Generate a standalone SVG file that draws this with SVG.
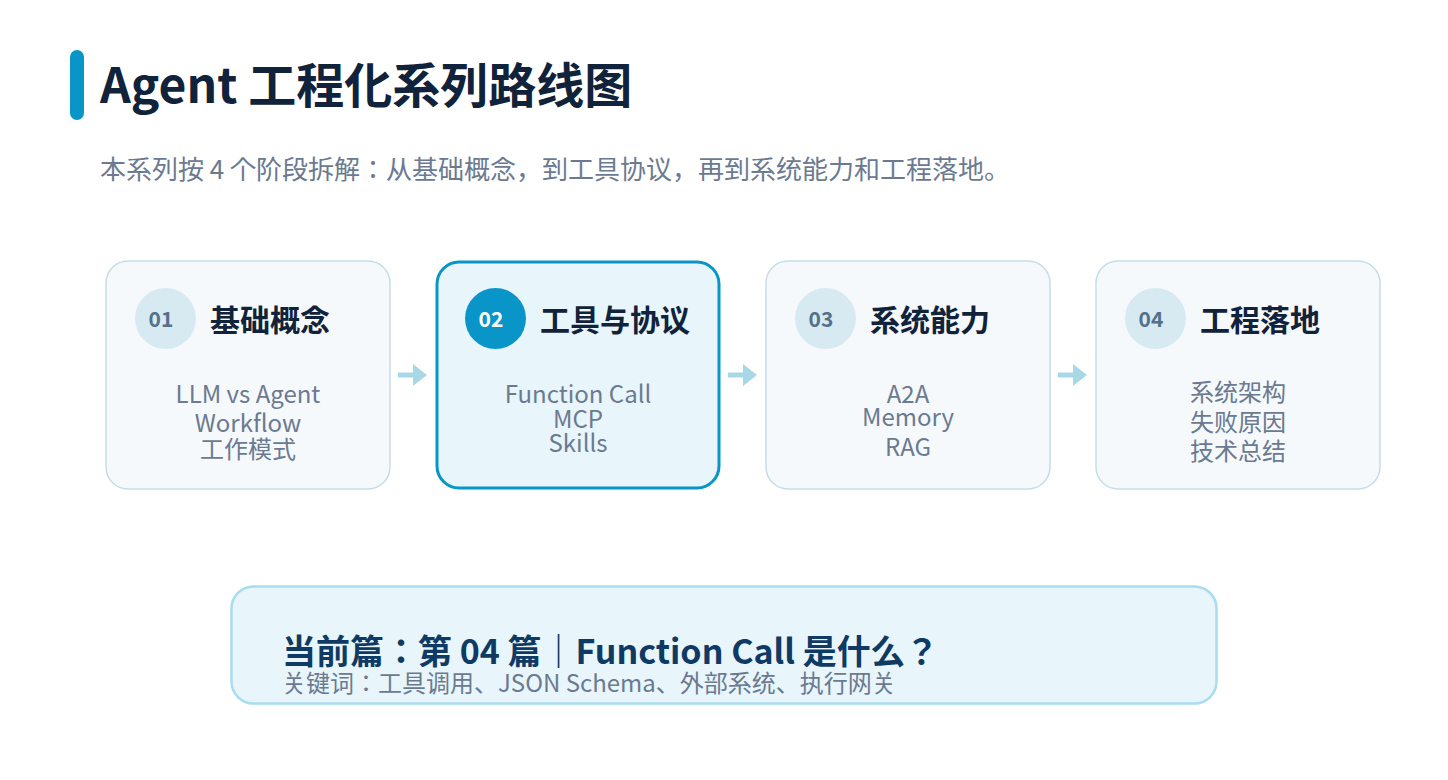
<svg xmlns="http://www.w3.org/2000/svg" width="1448" height="780" viewBox="0 0 1448 780">
<defs>
<style>
text{font-family:"Noto Sans CJK JP","Noto Sans",sans-serif;}
.card{fill:#f5f9fc;stroke:#c6dde8;stroke-width:1.5;}
.card.active{fill:#e8f5fb;stroke:#0a95c8;stroke-width:3;}
.badge{fill:#d7eaf2;}
.badge.active{fill:#0a95c8;}
.num{font-size:21px;font-weight:700;fill:#55708a;text-anchor:middle;}
.num.active{fill:#ffffff;}
.head{font-size:30px;font-weight:700;fill:#10233a;}
.body{font-size:24px;fill:#6b7a90;text-anchor:middle;}
.arrow{fill:#a8d8e6;}
</style>
</defs>
<rect width="1448" height="780" fill="#ffffff"/>
<g id="header">
<rect x="70" y="50" width="14" height="70" rx="7" fill="#0a95c8"/>
<text x="100" y="103" style="font-size:48px;font-weight:700;fill:#10233a">Agent 工程化系列路线图</text>
<text x="100" y="179" style="font-size:26px;fill:#6b7a90">本系列按 4 个阶段拆解：从基础概念，到工具协议，再到系统能力和工程落地。</text>
</g>
<g id="node-01">
<rect class="card" x="106" y="261" width="284" height="228" rx="22"/>
<circle class="badge" cx="165.5" cy="318.5" r="30.5"/>
<text class="num" x="161" y="327">01</text>
<text class="head" x="210" y="331">基础概念</text>
<text class="body" x="248" y="403">LLM vs Agent</text>
<text class="body" x="248" y="432">Workflow</text>
<text class="body" x="248" y="458">工作模式</text>
</g>
<g id="node-02">
<rect class="card active" x="437" y="262" width="282" height="226" rx="22"/>
<circle class="badge active" cx="495.5" cy="318.5" r="30.5"/>
<text class="num active" x="491" y="327">02</text>
<text class="head" x="540" y="331">工具与协议</text>
<text class="body" x="578" y="403">Function Call</text>
<text class="body" x="578" y="428">MCP</text>
<text class="body" x="578" y="452">Skills</text>
</g>
<g id="node-03">
<rect class="card" x="766" y="261" width="284" height="228" rx="22"/>
<circle class="badge" cx="825.5" cy="318.5" r="30.5"/>
<text class="num" x="821" y="327">03</text>
<text class="head" x="870" y="331">系统能力</text>
<text class="body" x="908" y="403">A2A</text>
<text class="body" x="908" y="426">Memory</text>
<text class="body" x="908" y="456">RAG</text>
</g>
<g id="node-04">
<rect class="card" x="1096" y="261" width="284" height="228" rx="22"/>
<circle class="badge" cx="1155.5" cy="318.5" r="30.5"/>
<text class="num" x="1151" y="327">04</text>
<text class="head" x="1200" y="331">工程落地</text>
<text class="body" x="1238" y="401">系统架构</text>
<text class="body" x="1238" y="431">失败原因</text>
<text class="body" x="1238" y="460">技术总结</text>
</g>
<g id="connectors">
<path class="arrow" d="M398 372.5 H413 V364 L427 375 L413 386 V377.5 H398 Z"/>
<path class="arrow" d="M728 372.5 H743 V364 L757 375 L743 386 V377.5 H728 Z"/>
<path class="arrow" d="M1058 372.5 H1073 V364 L1087 375 L1073 386 V377.5 H1058 Z"/>
</g>
<g id="current">
<rect x="231.5" y="586.5" width="985" height="117" rx="22" fill="#e8f5fb" stroke="#a8dcef" stroke-width="2.5"/>
<text x="282" y="664" style="font-size:34px;font-weight:700;fill:#0f3a63">当前篇：第 04 篇｜Function Call 是什么？</text>
<text x="282" y="692" style="font-size:24px;fill:#6b7a90">关键词：工具调用、JSON Schema、外部系统、执行网关</text>
</g>
</svg>
